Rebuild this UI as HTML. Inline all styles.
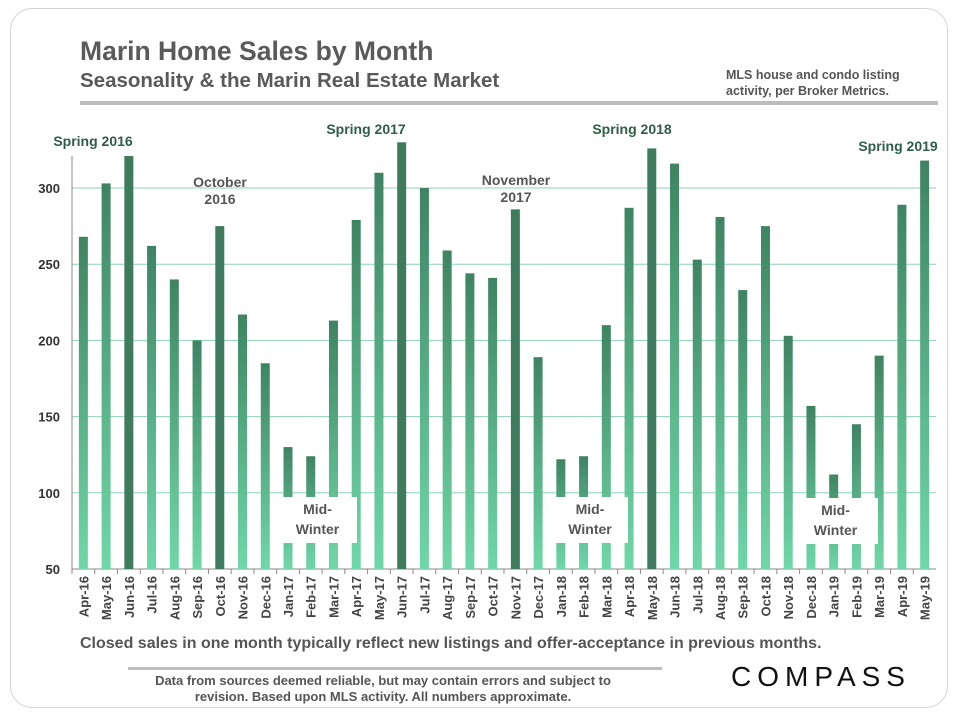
<!DOCTYPE html>
<html><head><meta charset="utf-8">
<style>
body{margin:0;background:#fff;font-family:"Liberation Sans",sans-serif;}
#wrap{position:relative;width:960px;height:720px;overflow:hidden;}
.card{position:absolute;left:10px;top:8px;width:938px;height:700px;border:1px solid #d4d4d4;border-radius:22px;box-sizing:border-box;}
</style></head>
<body>
<div id="wrap">
<div class="card"></div>
<svg id="chart" width="960" height="720" style="position:absolute;left:0;top:0">
<defs>
<linearGradient id="g" x1="0" y1="0" x2="0" y2="1">
<stop offset="0" stop-color="#3f8462"/><stop offset="1" stop-color="#6fd8a8"/>
</linearGradient>
</defs>
<text x="80" y="60" font-size="26.5" font-weight="bold" fill="#5a5a5a">Marin Home Sales by Month</text>
<text x="80" y="87" font-size="20.5" font-weight="bold" fill="#5a5a5a">Seasonality &amp; the Marin Real Estate Market</text>
<text x="726" y="79" font-size="12.5" font-weight="bold" fill="#555">MLS house and condo listing</text>
<text x="726" y="95" font-size="12.5" font-weight="bold" fill="#555">activity, per Broker Metrics.</text>
<rect x="80" y="101" width="858" height="4" fill="#bdbdbd"/>
<g id="grid"></g>
<g id="bars"></g>
<g id="overlay"></g>
<text x="80" y="648" font-size="16" font-weight="bold" fill="#555">Closed sales in one month typically reflect new listings and offer-acceptance in previous months.</text>
<rect x="128" y="667" width="534" height="3" fill="#bdbdbd"/>
<text x="383" y="685" font-size="13" font-weight="bold" fill="#555" text-anchor="middle">Data from sources deemed reliable, but may contain errors and subject to</text>
<text x="383" y="701" font-size="13" font-weight="bold" fill="#555" text-anchor="middle">revision. Based upon MLS activity. All numbers approximate.</text>
<text x="821" y="686" font-size="28" fill="#111" text-anchor="middle" letter-spacing="6">COMPASS</text>
</svg>
</div>
<script>
const categories=["Apr-16","May-16","Jun-16","Jul-16","Aug-16","Sep-16","Oct-16","Nov-16","Dec-16","Jan-17","Feb-17","Mar-17","Apr-17","May-17","Jun-17","Jul-17","Aug-17","Sep-17","Oct-17","Nov-17","Dec-17","Jan-18","Feb-18","Mar-18","Apr-18","May-18","Jun-18","Jul-18","Aug-18","Sep-18","Oct-18","Nov-18","Dec-18","Jan-19","Feb-19","Mar-19","Apr-19","May-19"];
const sales=[268,303,321,262,240,200,275,217,185,130,124,213,279,310,330,300,259,244,241,286,189,122,124,210,287,326,316,253,281,233,275,203,157,112,145,190,289,318];
const highlighted=["Jun-16","Oct-16","Jun-17","Nov-17","May-18"];
const yTicks=[50,100,150,200,250,300];
const NS="http://www.w3.org/2000/svg";
const yMin=50,yMax=300,y0=569,y1=188;
function yS(v){return y0-(v-yMin)/(yMax-yMin)*(y0-y1);}
const xL=72,xR=936,step=(xR-xL)/categories.length;
function xS(i){return xL+step*(i+0.5);}
function mk(tag,attrs,parent){const e=document.createElementNS(NS,tag);for(const k in attrs)e.setAttribute(k,attrs[k]);parent.appendChild(e);return e;}
const grid=document.getElementById('grid'),bars=document.getElementById('bars'),ov=document.getElementById('overlay');
yTicks.forEach(t=>{
 if(t>yMin){const l=mk('line',{x1:xL,x2:xR,y1:yS(t),y2:yS(t),stroke:'#8fd3b4','stroke-width':1},grid);
 
 }
 const tx=mk('text',{x:60,y:yS(t)+5,'font-size':13,'font-weight':'bold',fill:'#333','text-anchor':'end'},grid);
 tx.textContent=t;
 
 
});
const ax=mk('line',{x1:xL,x2:xL,y1:156,y2:y0,stroke:'#888'},grid);


const xa=mk('line',{x1:xL,x2:xR,y1:y0,y2:y0,stroke:'#888'},grid);


categories.forEach((c,i)=>{
 const v=sales[i],cx=xS(i),bw=9;
 const r=mk('rect',{x:cx-bw/2,y:yS(v),width:bw,height:y0-yS(v),fill:highlighted.includes(c)?'#3f7c5e':'url(#g)'},bars);
 
 
 const tk=mk('line',{x1:xL+step*i,x2:xL+step*i,y1:y0,y2:y0+5,stroke:'#888'},grid);
 
 
 const t=mk('text',{x:cx+5,y:576,'font-size':13,'font-weight':'bold',fill:'#444','text-anchor':'end',transform:`rotate(-90 ${cx+5} 576)`},grid);
 t.textContent=c;
 
 
});
const boxes=[[278,497,79,46],[552,497,76,46],[793,498,85,46]];
boxes.forEach((b,k)=>{
 const r=mk('rect',{x:b[0],y:b[1],width:b[2],height:b[3],fill:'#fff'},ov);
 
 
 const cx=b[0]+b[2]/2;
 [['Mid-',b[1]+17],['Winter',b[1]+37]].forEach(([s,y])=>{
  const t=mk('text',{x:cx,y:y,'font-size':14,'font-weight':'bold',fill:'#555','text-anchor':'middle'},ov);
  t.textContent=s;
  
  
 });
});
const anns=[["Spring 2016",93,146,'#2f5e48'],["Spring 2017",366,134,'#2f5e48'],["Spring 2018",632,134,'#2f5e48'],["Spring 2019",898,151,'#2f5e48'],["October",220,187,'#555'],["2016",220,204,'#555'],["November",516,185,'#555'],["2017",516,202,'#555']];
anns.forEach(a=>{
 const t=mk('text',{x:a[1],y:a[2],'font-size':14,'font-weight':'bold',fill:a[3],'text-anchor':'middle'},ov);
 t.textContent=a[0];
 
 
});
</script>
</body></html>
